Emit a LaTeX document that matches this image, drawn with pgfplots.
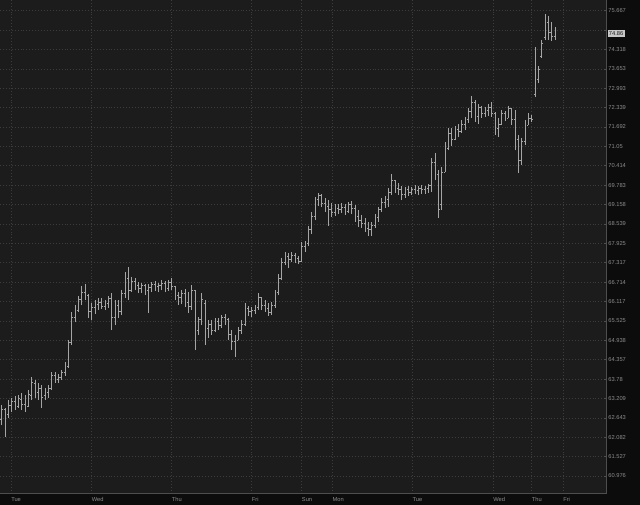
\documentclass[border=0pt]{standalone}
\usepackage{fontspec}
\setmainfont{Liberation Sans}
\usepackage{pgfplots}
\pgfplotsset{compat=1.18}
\usepackage{pgfplotstable}

\definecolor{outerbg}{RGB}{12,12,12}
\definecolor{plotbg}{RGB}{28,28,28}
\definecolor{gridcol}{RGB}{60,60,60}
\definecolor{bordercol}{RGB}{78,78,78}
\definecolor{barcol}{RGB}{165,165,165}
\definecolor{labelcol}{RGB}{140,140,140}
\definecolor{pricebox}{RGB}{200,200,200}

% open tick to the left, close tick to the right
\pgfdeclareplotmark{ohlcopen}{%
  \pgfpathmoveto{\pgfqpoint{-\pgfplotmarksize}{0pt}}%
  \pgfpathlineto{\pgfqpoint{0pt}{0pt}}%
  \pgfusepathqstroke}
\pgfdeclareplotmark{ohlcclose}{%
  \pgfpathmoveto{\pgfqpoint{0pt}{0pt}}%
  \pgfpathlineto{\pgfqpoint{\pgfplotmarksize}{0pt}}%
  \pgfusepathqstroke}

\pgfplotstableread{
x o h l c
0.5 62.59 63.02 62.44 62.88
1.5 62.88 62.94 62.09 62.30
2.5 62.73 63.17 62.64 63.02
3.5 63.02 63.23 62.82 63.11
4.5 63.11 63.29 62.88 62.96
5.5 62.99 63.32 62.94 63.20
6.5 63.17 63.37 62.88 63.05
7.5 63.05 63.32 62.82 62.94
8.5 62.99 63.46 62.96 63.32
9.5 63.29 63.85 63.17 63.67
10.5 63.64 63.76 63.23 63.40
11.5 63.40 63.67 63.17 63.52
12.5 63.52 63.61 62.94 63.23
13.5 63.29 63.52 63.17 63.40
14.5 63.40 63.61 63.23 63.52
15.5 63.52 63.99 63.46 63.88
16.5 63.88 63.99 63.67 63.76
17.5 63.76 63.93 63.67 63.82
18.5 63.82 64.05 63.76 63.99
19.5 63.99 64.29 63.88 64.17
20.5 64.17 64.95 64.11 64.86
21.5 64.86 65.80 64.80 65.62
22.5 65.62 66.01 65.50 65.86
23.5 65.86 66.29 65.80 66.17
24.5 66.17 66.60 66.01 66.41
25.5 66.41 66.66 66.17 66.29
26.5 66.29 66.35 65.62 65.80
27.5 65.80 66.07 65.56 65.95
28.5 65.95 66.17 65.74 66.04
29.5 66.04 66.23 65.86 66.10
30.5 66.10 66.23 65.89 65.98
31.5 65.98 66.17 65.86 66.07
32.5 66.07 66.29 65.92 66.20
33.5 66.20 66.38 65.25 65.62
34.5 65.62 66.17 65.40 66.01
35.5 66.01 66.17 65.62 65.80
36.5 65.80 66.47 65.71 66.35
37.5 66.35 67.03 66.23 66.84
38.5 66.84 67.19 66.17 66.47
39.5 66.47 66.88 66.41 66.75
40.5 66.75 66.84 66.47 66.60
41.5 66.60 66.72 66.38 66.51
42.5 66.51 66.69 66.38 66.60
43.5 66.60 66.66 66.32 66.47
44.5 66.47 66.66 65.77 66.54
45.5 66.54 66.72 66.41 66.63
46.5 66.63 66.75 66.44 66.57
47.5 66.57 66.69 66.41 66.60
48.5 66.60 66.78 66.47 66.66
49.5 66.66 66.75 66.41 66.51
50.5 66.51 66.78 66.44 66.69
51.5 66.69 66.84 66.47 66.57
52.5 66.57 66.60 66.17 66.29
53.5 66.29 66.41 66.01 66.23
54.5 66.23 66.47 66.04 66.35
55.5 66.35 66.51 65.95 66.10
56.5 66.10 66.41 65.77 65.98
57.5 65.98 66.63 65.86 66.47
58.5 66.47 66.47 64.65 65.25
59.5 65.25 65.65 65.10 65.56
60.5 65.56 66.38 65.40 66.17
61.5 66.07 66.17 64.80 65.31
62.5 65.31 65.56 65.01 65.43
63.5 65.43 65.56 65.10 65.25
64.5 65.25 65.62 65.19 65.50
65.5 65.50 65.62 65.25 65.40
66.5 65.40 65.71 65.31 65.62
67.5 65.62 65.74 65.40 65.56
68.5 65.56 65.62 64.95 65.10
69.5 65.10 65.25 64.65 64.89
70.5 64.89 65.10 64.44 64.95
71.5 64.95 65.34 64.95 65.25
72.5 65.25 65.56 65.13 65.43
73.5 65.43 66.07 65.37 65.92
74.5 65.92 65.98 65.68 65.80
75.5 65.80 65.95 65.65 65.86
76.5 65.86 66.01 65.74 65.95
77.5 65.95 66.38 65.86 66.23
78.5 66.23 66.23 65.86 66.01
79.5 66.01 66.17 65.80 65.92
80.5 65.92 66.07 65.68 65.77
81.5 65.77 66.10 65.71 66.01
82.5 66.01 66.47 65.92 66.41
83.5 66.41 66.97 66.32 66.84
84.5 66.84 67.47 66.78 67.34
85.5 67.34 67.66 67.25 67.53
86.5 67.53 67.62 67.16 67.41
87.5 67.41 67.66 67.34 67.56
88.5 67.56 67.62 67.31 67.44
89.5 67.44 67.53 67.28 67.37
90.5 67.37 67.97 67.34 67.84
91.5 67.84 68.00 67.66 67.91
92.5 67.91 68.48 67.84 68.35
93.5 68.35 68.92 68.22 68.79
94.5 68.79 69.40 68.67 69.31
95.5 69.31 69.53 69.11 69.44
96.5 69.44 69.50 69.08 69.21
97.5 69.21 69.37 68.92 69.11
98.5 69.11 69.31 68.48 68.99
99.5 68.99 69.21 68.76 68.92
100.5 68.92 69.18 68.79 69.05
101.5 69.05 69.18 68.86 68.99
102.5 68.99 69.21 68.89 69.08
103.5 69.08 69.18 68.83 68.95
104.5 68.95 69.24 68.89 69.15
105.5 69.15 69.27 68.86 69.02
106.5 69.02 69.15 68.60 68.79
107.5 68.79 68.99 68.44 68.67
108.5 68.67 68.83 68.41 68.57
109.5 68.57 68.73 68.29 68.41
110.5 68.41 68.60 68.16 68.35
111.5 68.35 68.60 68.16 68.48
112.5 68.48 68.86 68.41 68.73
113.5 68.73 69.08 68.60 68.99
114.5 68.99 69.37 68.92 69.24
115.5 69.24 69.44 69.05 69.31
116.5 69.31 69.69 69.08 69.56
117.5 69.56 70.15 69.47 69.95
118.5 69.95 69.95 69.53 69.69
119.5 69.69 69.85 69.47 69.63
120.5 69.63 69.76 69.31 69.47
121.5 69.47 69.72 69.37 69.63
122.5 69.63 69.76 69.44 69.56
123.5 69.56 69.72 69.47 69.66
124.5 69.66 69.79 69.50 69.60
125.5 69.60 69.76 69.47 69.69
126.5 69.69 69.79 69.50 69.63
127.5 69.63 69.76 69.50 69.69
128.5 69.69 69.82 69.53 69.76
129.5 69.76 70.67 69.56 70.54
130.5 70.54 70.83 69.95 70.12
131.5 70.12 70.28 68.73 68.99
132.5 69.15 70.38 68.99 70.21
133.5 70.21 71.20 70.21 71.00
134.5 71.00 71.66 70.93 71.46
135.5 71.46 71.66 71.06 71.27
136.5 71.27 71.73 71.27 71.60
137.5 71.60 71.79 71.36 71.53
138.5 71.53 71.93 71.50 71.79
139.5 71.79 72.03 71.60 71.93
140.5 71.93 72.33 71.83 72.20
141.5 72.20 72.73 71.99 72.53
142.5 72.53 72.60 71.86 72.06
143.5 72.06 72.46 71.79 72.33
144.5 72.33 72.40 71.99 72.16
145.5 72.16 72.36 72.03 72.26
146.5 72.26 72.46 72.06 72.36
147.5 72.36 72.53 72.03 72.13
148.5 72.13 72.20 71.43 71.66
149.5 71.66 71.99 71.36 71.79
150.5 71.79 72.26 71.79 72.13
151.5 72.13 72.23 71.89 71.99
152.5 71.99 72.40 71.99 72.30
153.5 72.30 72.33 71.76 71.93
154.5 71.93 72.26 70.93 71.27
155.5 71.27 71.43 70.18 70.60
156.5 70.60 71.33 70.44 71.20
157.5 71.20 71.93 71.10 71.76
158.5 71.76 72.16 71.76 71.99
159.5 71.99 72.10 71.86 71.93
160.5 72.77 74.40 72.70 73.28
161.5 73.28 73.75 73.17 73.62
162.5 74.09 74.65 74.03 74.51
163.5 74.72 75.56 74.65 75.27
164.5 75.27 75.48 74.65 74.92
165.5 74.92 75.27 74.61 74.78
166.5 74.78 75.10 74.65 74.86
}\ohlc

\begin{document}
\begin{tikzpicture}
\fill[outerbg] (0,0) rectangle (480pt,-378.75pt);
\useasboundingbox (0,0) rectangle (480pt,-378.75pt);
\begin{axis}[
    at={(0,0)}, anchor=north west,
    scale only axis,
    width=454.875pt, height=370.125pt,
    xmin=0, xmax=181.95,
    ymode=log, ymin=60.486, ymax=76.044,
    clip=false,
    axis background/.style={fill=plotbg},
    axis x line*=bottom, axis y line*=right,
    axis line style={draw=bordercol, line width=0.6pt},
    xtick={3.3,27.5,51.5,75.5,90.5,99.7,123.7,147.9,159.5,168.9},
    xticklabels={Tue,Wed,Thu,Fri,Sun,Mon,Tue,Wed,Thu,Fri},
    ytick={60.976,61.527,62.082,62.643,63.209,63.78,64.357,64.938,65.525,66.117,66.714,67.317,67.925,68.539,69.158,69.783,70.414,71.05,71.692,72.339,72.993,73.653,74.318,74.989,75.667},
    % the 74.989 label sits under the last-price box
    yticklabels={60.976,61.527,62.082,62.643,63.209,63.78,64.357,64.938,65.525,66.117,66.714,67.317,67.925,68.539,69.158,69.783,70.414,71.05,71.692,72.339,72.993,73.653,74.318,,75.667},
    grid=major,
    major grid style={draw=gridcol, line width=0.5pt, dash pattern=on 0.6pt off 1.6pt},
    tick align=inside, major tick length=2pt,
    xtick style={draw=none},
    ytick style={draw=bordercol, line width=0.5pt},
    tick label style={font=\fontsize{4.3}{5}\selectfont, text=labelcol},
    yticklabel style={anchor=west, inner sep=0pt, xshift=1.2pt},
    xticklabel style={anchor=west, inner sep=0pt, yshift=-4.5pt},
]
% high-low lines
\addplot[draw=none, mark=none, forget plot,
    error bars/.cd, y dir=plus, y explicit, error mark=none,
    error bar style={draw=barcol, line width=0.65pt}]
    table[x=x, y=l, y error expr=\thisrow{h}-\thisrow{l}] {\ohlc};
% open and close ticks
\addplot[only marks, mark=ohlcopen, mark size=0.9pt, barcol, line width=0.6pt]
    table[x=x, y=o] {\ohlc};
\addplot[only marks, mark=ohlcclose, mark size=0.9pt, barcol, line width=0.6pt]
    table[x=x, y=c] {\ohlc};
% last price box
\node[fill=pricebox, text=plotbg, anchor=west, inner xsep=1pt, inner ysep=1.1pt,
    xshift=0.6pt, font=\fontsize{4.3}{5}\selectfont] at (axis cs:181.95,74.86) {74.86};
\end{axis}
\end{tikzpicture}
\end{document}
